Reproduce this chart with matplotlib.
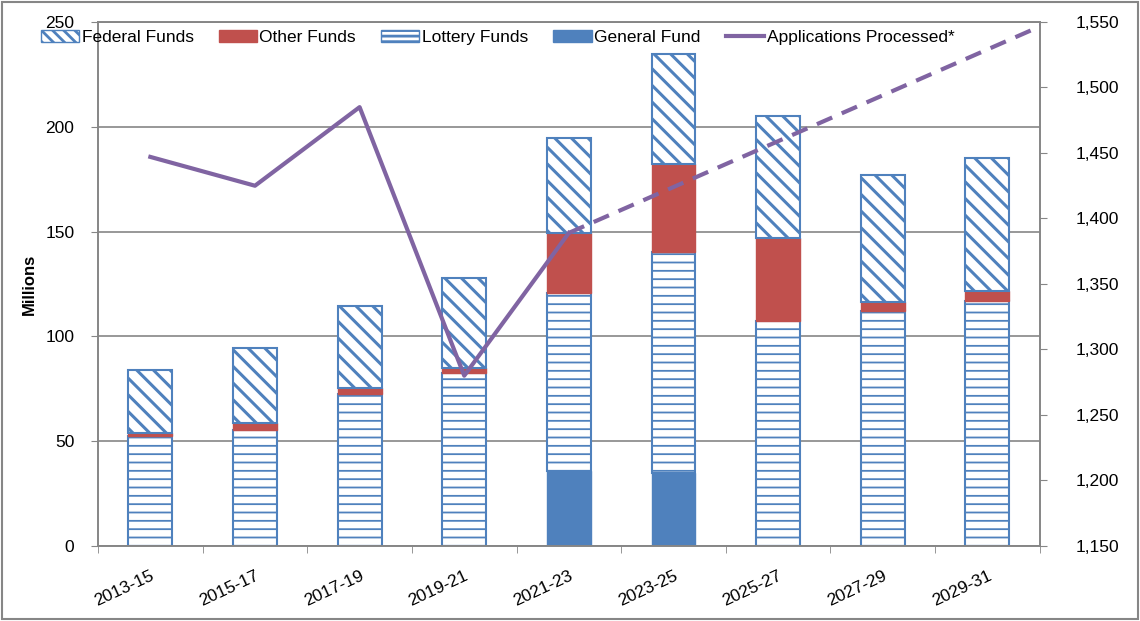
import numpy as np
import matplotlib
matplotlib.use("Agg")
import matplotlib.pyplot as plt
from matplotlib.patches import Rectangle, Patch
from matplotlib.lines import Line2D

plt.rcParams['font.family'] = ['Liberation Sans', 'DejaVu Sans']

# data (millions)
periods = ["2013-15", "2015-17", "2017-19", "2019-21", "2021-23",
           "2023-25", "2025-27", "2027-29", "2029-31"]
general_fund = [0, 0, 0, 0, 35.8, 34.7, 0, 0, 0]
lottery_funds = [52.3, 55.3, 72.4, 82.4, 84.8, 105.4, 107.3, 112.0, 116.9]
other_funds = [1.5, 3.2, 2.8, 2.4, 28.9, 42.2, 39.7, 4.4, 4.8]
federal_funds = [30.2, 35.8, 39.3, 43.1, 45.3, 52.4, 58.2, 60.6, 63.3]

# applications processed (right axis)
apps_actual = [1447, 1425, 1485, 1280, 1389]
apps_projected = [1389, 1424, 1459, 1494, 1529, 1564]  # 2021-23 onward, last one past the axis edge

blue = "#4F81BD"
red = "#C0504D"
purple = "#8064A2"
grey = "#868686"

x = np.arange(len(periods))
w = 0.42

fig = plt.figure(figsize=(11.4, 6.21), dpi=100)
ax = fig.add_axes([0.086, 0.1208, 0.826, 0.8438])

bottom = np.zeros(len(periods))
ax.bar(x, general_fund, w, bottom=bottom, color=blue, edgecolor=blue, zorder=2)
bottom += general_fund

plt.rcParams['hatch.linewidth'] = 1.3
ax.bar(x, lottery_funds, w, bottom=bottom, color="white", edgecolor=blue,
       hatch="--", linewidth=1.5, zorder=2)
bottom += lottery_funds

ax.bar(x, other_funds, w, bottom=bottom, color=red, edgecolor=red, zorder=2)
bottom += other_funds

plt.rcParams['hatch.linewidth'] = 2.2
ax.bar(x, federal_funds, w, bottom=bottom, color="white", edgecolor=blue,
       hatch="\\\\", linewidth=1.5, zorder=2)

ax.set_ylim(0, 250)
ax.set_xlim(-0.5, len(periods) - 0.5)
ax.set_yticks(range(0, 251, 50))
ax.yaxis.grid(True, color=grey, linewidth=1.2, zorder=0)
ax.set_axisbelow(True)
ax.set_ylabel("Millions", fontsize=12, fontweight="bold", labelpad=6)

ax.set_xticks(x)
ax.set_xticklabels(periods, rotation=25, fontsize=12.5, ha="right",
                   rotation_mode="anchor")
ax.set_xticks(np.arange(-0.5, len(periods), 1.0), minor=True)
ax.tick_params(axis='x', which='major', length=0, pad=16)
ax.tick_params(axis='x', which='minor', length=5, color=grey)
ax.tick_params(axis='y', length=5, color=grey, labelsize=12.5, pad=12)
for s in ax.spines.values():
    s.set_color(grey)
    s.set_linewidth(1.2)

ax2 = ax.twinx()
ax2.set_ylim(1150, 1550)
ax2.set_yticks(range(1150, 1551, 50))
ax2.set_yticklabels([f"{v:,}" for v in range(1150, 1551, 50)])
ax2.tick_params(axis='y', length=5, color=grey, labelsize=12.5, pad=21)
for s in ax2.spines.values():
    s.set_color(grey)
    s.set_linewidth(1.2)

ax2.plot(x[:5], apps_actual, color=purple, linewidth=3, zorder=3)
ax2.plot(np.arange(4, 4 + len(apps_projected)), apps_projected, color=purple,
         linewidth=3, dashes=(4, 2.5), zorder=3)
ax2.set_xlim(-0.5, len(periods) - 0.5)

# legend
plt.rcParams['hatch.linewidth'] = 2.0
handles = [
    Patch(facecolor="white", edgecolor=blue, hatch="\\\\\\"),
    Patch(facecolor=red, edgecolor=red),
    Patch(facecolor="white", edgecolor=blue, hatch="---"),
    Patch(facecolor=blue, edgecolor=blue),
    Line2D([0], [0], color=purple, linewidth=3),
]
labels = ["Federal Funds", "Other Funds", "Lottery Funds", "General Fund",
          "Applications Processed*"]
fig.legend(handles, labels, loc="upper left", bbox_to_anchor=(0.022, 0.977),
           ncol=5, frameon=False, fontsize=12.5, handlelength=2.2,
           handleheight=0.7, handletextpad=0.15, columnspacing=1.45)

fig.patches.append(Rectangle((0.002, 0.003), 0.996, 0.994, transform=fig.transFigure,
                             fill=False, edgecolor=grey, linewidth=1.5))

plt.savefig("out.png", dpi=100)
